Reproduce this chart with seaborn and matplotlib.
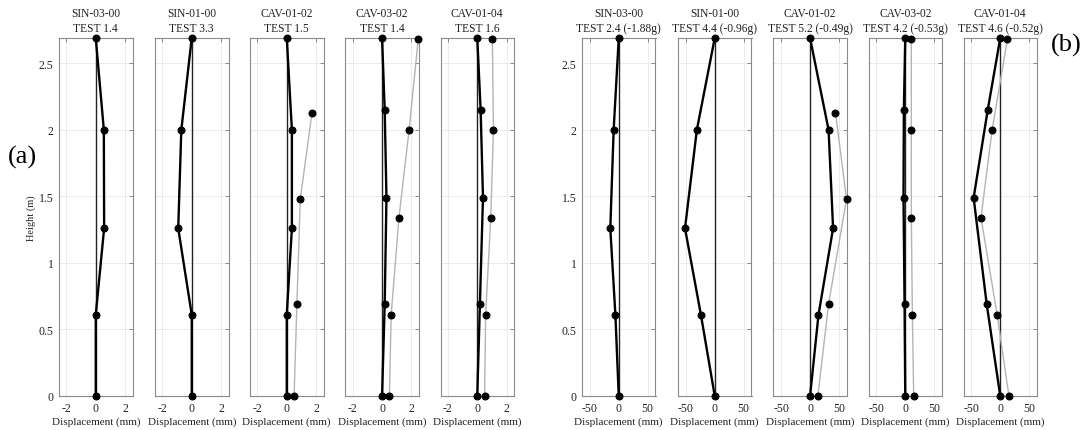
import numpy as np
import pandas as pd
import matplotlib
matplotlib.use("Agg")
import matplotlib.pyplot as plt
import seaborn as sns

# ---------------- data ----------------
titles = ["SIN-03-00", "SIN-01-00", "CAV-01-02", "CAV-03-02", "CAV-01-04"]
tests_a = ["TEST 1.4", "TEST 3.3", "TEST 1.5", "TEST 1.4", "TEST 1.6"]
tests_b = ["TEST 2.4 (-1.88g)", "TEST 4.4 (-0.96g)", "TEST 5.2 (-0.49g)",
           "TEST 4.2 (-0.53g)", "TEST 4.6 (-0.52g)"]

h_sin = [0, 0.61, 1.26, 2.0, 2.69]
h_cav = [0, 0.69, 1.49, 2.15, 2.69]
h_cav_gray = [0, 0.61, 1.34, 2.0, 2.68]
h_cav12_gray = [0, 0.69, 1.48, 2.13]

black_heights = [h_sin, h_sin, h_sin, h_cav, h_cav]
gray_heights = [None, None, h_cav12_gray, h_cav_gray, h_cav_gray]

black_a = [[0, 0, 0.57, 0.55, 0],
           [0, 0, -0.92, -0.71, 0],
           [0, 0, 0.35, 0.35, 0],
           [0, 0.18, 0.30, 0.18, 0],
           [0, 0.18, 0.39, 0.23, 0]]
gray_a = [None, None,
          [0.5, 0.69, 0.92, 1.72],
          [0.5, 0.62, 1.15, 1.84, 2.46],
          [0.5, 0.57, 0.92, 1.10, 1.03]]

black_b = [[0, -5.8, -14.6, -8.8, 0],
           [0, -23.9, -51.4, -30.9, 0],
           [0, 14.6, 39.8, 32.0, 0],
           [0, -1.2, -3.0, -2.4, 0],
           [0, -23.4, -46.0, -21.6, 0]]
gray_b = [None, None,
          [13.5, 32.0, 63.0, 43.9],
          [14.6, 12.3, 10.5, 10.5, 10.5],
          [15.0, -5.3, -33.3, -14.0, 12.3]]

yticks = [0, 0.5, 1, 1.5, 2, 2.5]
ytick_labels = ["0", "0.5", "1", "1.5", "2", "2.5"]
xticks_a = [-2, 0, 2]
xticks_b = [-50, 0, 50]

# ---------------- style ----------------
sns.set_theme(style="white")
plt.rcParams["font.family"] = ["Liberation Serif", "DejaVu Serif"]
plt.rcParams["text.color"] = "#222222"

W, H = 1089, 431
fig = plt.figure(figsize=(W / 100, H / 100), dpi=100)
fig.patch.set_facecolor("white")

a_lefts = [59, 155, 250, 345.3, 440.5]
b_lefts = [582, 678, 773.3, 868.5, 963.5]
ax_w = 73.5
top_px, bot_px = 39, 397


def draw_panel(left, title, test, bx, by, gx, gy, xlim, xticks, first, ylabel):
    ax = fig.add_axes([left / W, 1 - bot_px / H, ax_w / W, (bot_px - top_px) / H])
    ax.set_facecolor("white")
    ax.grid(True, color="#ebebeb", linewidth=0.7)
    ax.set_axisbelow(True)
    ax.axvline(0, color="#222222", linewidth=1.0, zorder=2)
    if gx is not None:
        dfg = pd.DataFrame({"disp": gx, "h": gy})
        sns.lineplot(data=dfg, x="disp", y="h", sort=False, estimator=None,
                     color="#b4b4b4", linewidth=1.0, marker="o", markersize=5,
                     markerfacecolor="black", markeredgecolor="black", ax=ax,
                     zorder=3, clip_on=False)
    dfb = pd.DataFrame({"disp": bx, "h": by})
    sns.lineplot(data=dfb, x="disp", y="h", sort=False, estimator=None,
                 color="black", linewidth=1.7, marker="o", markersize=5,
                 markerfacecolor="black", markeredgecolor="black", ax=ax,
                 zorder=4, clip_on=False)
    ax.set_xlim(*xlim)
    ax.set_ylim(0, 2.69)
    ax.set_xticks(xticks)
    ax.set_xticklabels([str(t) for t in xticks])
    ax.set_yticks(yticks)
    if first:
        ax.set_yticklabels(ytick_labels)
    else:
        ax.set_yticklabels([])
    ax.tick_params(direction="in", length=3, width=0.6, color="#777777",
                   top=True, right=True, labelsize=8.5, pad=4, labelcolor="#222222")
    for s in ax.spines.values():
        s.set_color("#8a8a8a")
        s.set_linewidth(0.8)
    ax.set_xlabel("Displacement (mm)", fontsize=8, labelpad=2, color="#222222")
    ax.set_ylabel(ylabel, fontsize=7.5, labelpad=2, color="#222222")
    ax.set_title(title + "\n" + test, fontsize=8.3, pad=5, linespacing=1.3, color="#222222")
    return ax


for i in range(5):
    draw_panel(a_lefts[i], titles[i], tests_a[i], black_a[i], black_heights[i],
               gray_a[i], gray_heights[i], (-2.5, 2.5), xticks_a, i == 0,
               "Height (m)" if i == 0 else "")
    draw_panel(b_lefts[i], titles[i], tests_b[i], black_b[i], black_heights[i],
               gray_b[i], gray_heights[i], (-63.5, 63.5), xticks_b, i == 0, "")

fig.text(22 / W, 1 - 157 / H, "(a)", fontsize=19, ha="center", va="center", color="black")
fig.text(1066 / W, 1 - 45 / H, "(b)", fontsize=19, ha="center", va="center", color="black")

fig.savefig("out.png", dpi=100, facecolor="white")
